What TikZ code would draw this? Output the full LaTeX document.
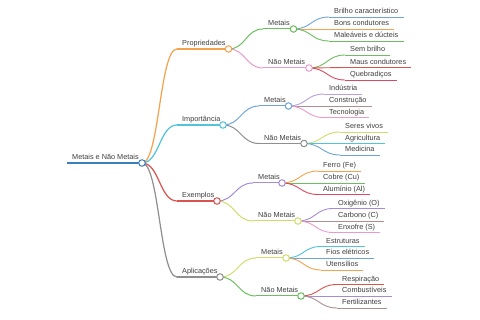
\documentclass[tikz,border=0pt]{standalone}
\usepackage{fontspec}
\setmainfont{Liberation Sans}
\usetikzlibrary{calc}
\definecolor{cRootB}{HTML}{3C7FBF}
\definecolor{cOr}{HTML}{F5A24C}
\definecolor{cCy}{HTML}{52C3D8}
\definecolor{cRe}{HTML}{D9534F}
\definecolor{cGy}{HTML}{8F8F8F}
\definecolor{cGr}{HTML}{6BBF5E}
\definecolor{cPk}{HTML}{EC9ACB}
\definecolor{cBl}{HTML}{6FA4D8}
\definecolor{cCr}{HTML}{D84A62}
\definecolor{cLv}{HTML}{B6A2DC}
\definecolor{cBr}{HTML}{AE8F8F}
\definecolor{cPu}{HTML}{A58CD6}
\definecolor{cYg}{HTML}{D2DC6A}
\definecolor{cTx}{HTML}{3E3E3E}
\tikzset{
  lbl/.style={text=cTx, font=\fontsize{7.3}{9}\selectfont, inner xsep=5pt, inner ysep=1pt},
  lvA/.style={line width=1.4pt},
  lvB/.style={line width=1.2pt},
  lvC/.style={line width=1.0pt},
  lvD/.style={line width=0.9pt},
  dot/.style={circle, draw=#1, fill=white, line width=1pt, minimum size=6.5pt, inner sep=0pt},
}
% #1 color, #2 parent coord, #3 name, #4 text x, #5 y, #6 text, #7 width style
\newcommand\mmbranch[7]{%
  \coordinate (#3s) at ({#4-5},#5);
  \node[lbl, anchor=base west] (#3t) at ({#4-5},{#5-3}) {#6};
  \path ($(#2)!.5!(#3s)$) coordinate (mid);
  \draw[#7, #1] (#2) .. controls (mid |- #2) and (mid |- #3s) .. (#3s);
}
\newcommand\mmleaf[6]{%
  \mmbranch{#1}{#2}{#3}{#4}{#5}{#6}{lvD}
  \draw[lvD, #1] (#3s) -- (#3t.east |- #3s);
}
\begin{document}
\begin{tikzpicture}[x=1pt, y=-1pt]
\path[use as bounding box, fill=white] (0,0) rectangle (480,320);
% circle centres
\coordinate (cR) at (142,163);
\coordinate (cP) at (228.5,49);
\coordinate (cI) at (223,125);
\coordinate (cE) at (217,201);
\coordinate (cA) at (220,277);
\coordinate (cPM) at (293.5,29);
\coordinate (cPN) at (309,68);
\coordinate (cIM) at (288.5,106);
\coordinate (cIN) at (304,143.5);
\coordinate (cEM) at (282,183);
\coordinate (cEN) at (298,221);
\coordinate (cAM) at (286,258);
\coordinate (cAN) at (301,296);
% root
\coordinate (Rs) at (67,163);
\node[lbl, anchor=base west] (Rt) at (67,160) {Metais e Não Metais};
\draw[lvA, cRootB] (Rs) -- (cR);
% level 1
\mmbranch{cOr}{cR}{P}{182}{49}{Propriedades}{lvB}
\draw[lvB, cOr] (Ps) -- (cP);
\mmbranch{cCy}{cR}{I}{182}{125}{Importância}{lvB}
\draw[lvB, cCy] (Is) -- (cI);
\mmbranch{cRe}{cR}{E}{182}{201}{Exemplos}{lvB}
\draw[lvB, cRe] (Es) -- (cE);
\mmbranch{cGy}{cR}{A}{182}{277}{Aplicações}{lvB}
\draw[lvB, cGy] (As) -- (cA);
% level 2
\mmbranch{cGr}{cP}{PM}{268}{29}{Metais}{lvC}
\draw[lvC, cGr] (PMs) -- (cPM);
\mmbranch{cPk}{cP}{PN}{268}{68}{Não Metais}{lvC}
\draw[lvC, cPk] (PNs) -- (cPN);
\mmbranch{cBl}{cI}{IM}{264}{106}{Metais}{lvC}
\draw[lvC, cBl] (IMs) -- (cIM);
\mmbranch{cGy}{cI}{IN}{264}{143.5}{Não Metais}{lvC}
\draw[lvC, cGy] (INs) -- (cIN);
\mmbranch{cPu}{cE}{EM}{258}{183}{Metais}{lvC}
\draw[lvC, cPu] (EMs) -- (cEM);
\mmbranch{cYg}{cE}{EN}{258}{221}{Não Metais}{lvC}
\draw[lvC, cYg] (ENs) -- (cEN);
\mmbranch{cYg}{cA}{AM}{261}{258}{Metais}{lvC}
\draw[lvC, cYg] (AMs) -- (cAM);
\mmbranch{cGr}{cA}{AN}{261}{296}{Não Metais}{lvC}
\draw[lvC, cGr] (ANs) -- (cAN);
% leaves
\mmleaf{cBl}{cPM}{L1}{334}{17}{Brilho característico}
\mmleaf{cOr}{cPM}{L2}{334}{29}{Bons condutores}
\mmleaf{cGr}{cPM}{L3}{334}{41}{Maleáveis e dúcteis}
\mmleaf{cGr}{cPN}{L4}{350}{55}{Sem brilho}
\mmleaf{cRe}{cPN}{L5}{350}{67.5}{Maus condutores}
\mmleaf{cCr}{cPN}{L6}{350}{80}{Quebradiços}
\mmleaf{cLv}{cIM}{L7}{329}{94}{Indústria}
\mmleaf{cBr}{cIM}{L8}{329}{106}{Construção}
\mmleaf{cPk}{cIM}{L9}{329}{117.5}{Tecnologia}
\mmleaf{cYg}{cIN}{L10}{345}{132}{Seres vivos}
\mmleaf{cCy}{cIN}{L11}{345}{143.5}{Agricultura}
\mmleaf{cBl}{cIN}{L12}{345}{155}{Medicina}
\mmleaf{cOr}{cEM}{L13}{323}{171}{Ferro (Fe)}
\mmleaf{cGr}{cEM}{L14}{323}{183}{Cobre (Cu)}
\mmleaf{cCr}{cEM}{L15}{323}{194.5}{Alumínio (Al)}
\mmleaf{cPu}{cEN}{L16}{338}{208.5}{Oxigênio (O)}
\mmleaf{cBr}{cEN}{L17}{338}{221}{Carbono (C)}
\mmleaf{cPk}{cEN}{L18}{338}{232.5}{Enxofre (S)}
\mmleaf{cCy}{cAM}{L19}{326}{246.5}{Estruturas}
\mmleaf{cBl}{cAM}{L20}{326}{258}{Fios elétricos}
\mmleaf{cOr}{cAM}{L21}{326}{270}{Utensílios}
\mmleaf{cRe}{cAN}{L22}{342}{284.5}{Respiração}
\mmleaf{cPu}{cAN}{L23}{342}{296}{Combustíveis}
\mmleaf{cBr}{cAN}{L24}{342}{308}{Fertilizantes}
% circles
\node[dot=cRootB] (dR) at (cR) {};
\node[dot=cOr] (dP) at (cP) {};
\node[dot=cCy] (dI) at (cI) {};
\node[dot=cRe] (dE) at (cE) {};
\node[dot=cGy] (dA) at (cA) {};
\node[dot=cGr] (dPM) at (cPM) {};
\node[dot=cPk] (dPN) at (cPN) {};
\node[dot=cBl] (dIM) at (cIM) {};
\node[dot=cGy] (dIN) at (cIN) {};
\node[dot=cPu] (dEM) at (cEM) {};
\node[dot=cYg] (dEN) at (cEN) {};
\node[dot=cYg] (dAM) at (cAM) {};
\node[dot=cGr] (dAN) at (cAN) {};
\end{tikzpicture}
\end{document}
